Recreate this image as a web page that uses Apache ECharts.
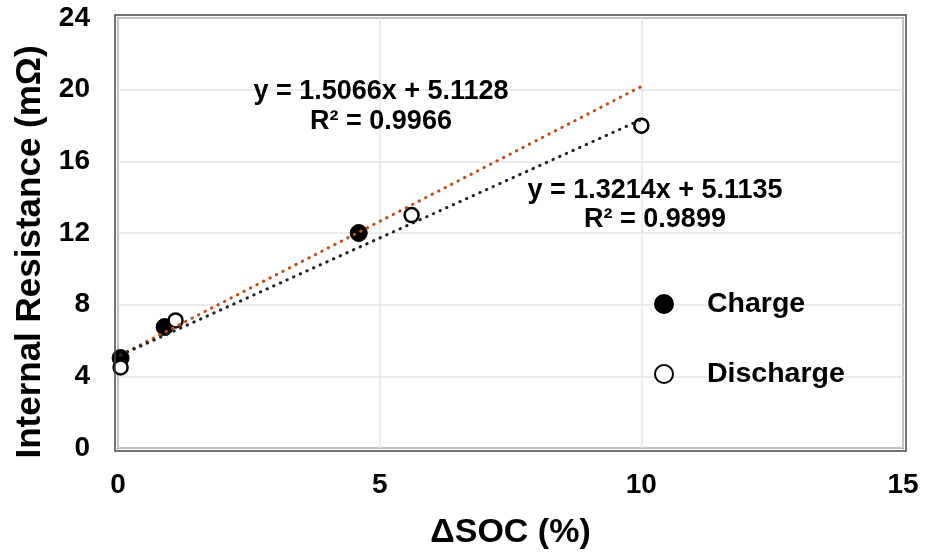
<!DOCTYPE html>
<html><head><meta charset="utf-8">
<script src="https://cdn.jsdelivr.net/npm/echarts@6/dist/echarts.min.js"></script>
<style>html,body{margin:0;padding:0;background:#fff}#c{width:926px;height:555px}</style>
</head><body><div id="c"></div>
<script>
const xTicks = [0, 5, 10, 15];
const yTicks = [0, 4, 8, 12, 16, 20, 24];
const chargeX = [0.05, 0.89, 4.6];
const chargeY = [5.02, 6.75, 12.0];
const dischargeX = [0.05, 1.10, 5.61, 10.0];
const dischargeY = [4.5, 7.12, 13.0, 17.99];
const trendChargeX = [0.05, 10];
const trendChargeY = [5.19, 20.18];
const trendDischargeX = [0.05, 10];
const trendDischargeY = [5.18, 18.33];
const eqCharge = ['y = 1.5066x + 5.1128', 'R² = 0.9966'];
const eqDischarge = ['y = 1.3214x + 5.1135', 'R² = 0.9899'];
const seriesNames = ['Charge', 'Discharge'];
const xTitle = 'ΔSOC (%)';
const yTitle = 'Internal Resistance (mΩ)';

const pair = (xs, ys) => xs.map((x, i) => [x, ys[i]]);
const FONT = '"Liberation Sans", Arial, sans-serif';
const chart = echarts.init(document.getElementById('c'), null, {renderer: 'canvas'});
const GL = 118, GT = 18, GR = 23, GB = 107;
const dotStyle = (c) => ({color: c, width: 3, cap: 'round', type: [0.5, 6.8], opacity: 1});
const txt = (x, y, t, size) => ({type: 'text', x: x, y: y, z: 100, silent: true,
  style: {text: t, font: 'bold ' + size + 'px ' + FONT, fill: '#000', align: 'center', verticalAlign: 'middle'}});
chart.setOption({
  animation: false,
  backgroundColor: '#fff',
  grid: {left: GL, top: GT, right: GR, bottom: GB, show: true, borderColor: '#222', borderWidth: 1.5},
  xAxis: {
    type: 'value', min: xTicks[0], max: xTicks[xTicks.length - 1], interval: 5,
    name: xTitle, nameLocation: 'middle', nameGap: 68,
    nameTextStyle: {fontFamily: FONT, fontWeight: 'bold', fontSize: 34, color: '#000'},
    axisLine: {show: false}, axisTick: {show: false},
    axisLabel: {fontFamily: FONT, fontWeight: 'bold', fontSize: 28, color: '#000', margin: 23},
    splitLine: {show: true, lineStyle: {color: '#e4e4e4', width: 1.5}}
  },
  yAxis: {
    type: 'value', min: yTicks[0], max: yTicks[yTicks.length - 1], interval: 4,
    axisLine: {show: false}, axisTick: {show: false},
    axisLabel: {fontFamily: FONT, fontWeight: 'bold', fontSize: 28, color: '#000', margin: 28},
    splitLine: {show: true, lineStyle: {color: '#e4e4e4', width: 1.5}}
  },
  legend: {
    orient: 'vertical', left: 654, top: 289, padding: 0, itemWidth: 18, itemHeight: 18, itemGap: 40,
    data: seriesNames,
    textStyle: {fontFamily: FONT, fontWeight: 'bold', fontSize: 28.5, color: '#000', lineHeight: 30, padding: [0, 0, 0, 29]}
  },
  graphic: [
    {type: 'rect', silent: true, z: 100, shape: {x: GL - 3, y: GT - 3, width: 926 - GL - GR + 6, height: 555 - GT - GB + 6},
      style: {fill: 'none', stroke: '#444', lineWidth: 1.5}},
    txt(30, 252, yTitle, 35),
    txt(381, 92, eqCharge[0], 27),
    txt(381, 122, eqCharge[1], 27),
    txt(655, 191, eqDischarge[0], 27),
    txt(655, 220, eqDischarge[1], 27)
  ].map((g, i) => i === 1 ? Object.assign(g, {rotation: Math.PI / 2}) : g),
  series: [
    {name: seriesNames[0], type: 'scatter', data: pair(chargeX, chargeY), symbol: 'circle', symbolSize: 17,
      itemStyle: {color: '#000', borderColor: '#000', borderWidth: 1, opacity: 1}, emphasis: {disabled: true}, z: 2},
    {name: seriesNames[1], type: 'scatter', data: pair(dischargeX, dischargeY), symbol: 'circle', symbolSize: 14,
      itemStyle: {color: '#fff', borderColor: '#000', borderWidth: 2.5, opacity: 1}, emphasis: {disabled: true}, z: 2},
    {name: 'trendCharge', type: 'line', data: pair(trendChargeX, trendChargeY), symbol: 'none',
      lineStyle: dotStyle('#c04f17'), z: 5, silent: true},
    {name: 'trendDischarge', type: 'line', data: pair(trendDischargeX, trendDischargeY), symbol: 'none',
      lineStyle: dotStyle('#222'), z: 5, silent: true}
  ]
});
</script></body></html>
